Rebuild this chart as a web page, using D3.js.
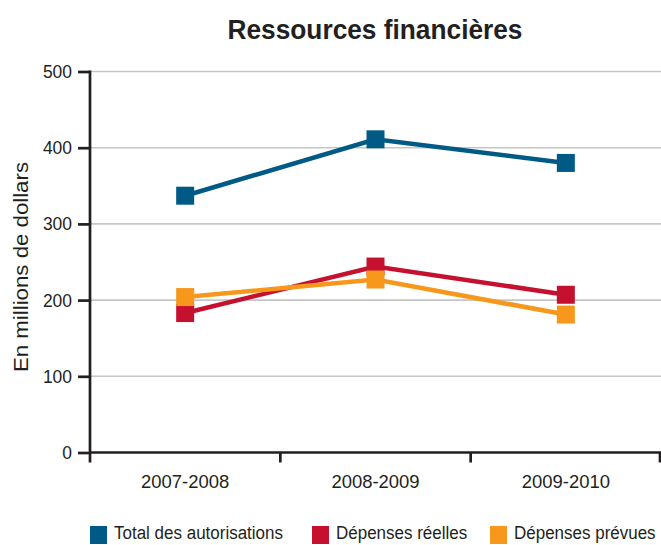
<!DOCTYPE html>
<html>
<head>
<meta charset="utf-8">
<script src="https://cdn.jsdelivr.net/npm/d3@7"></script>
<style>
  html, body { margin: 0; padding: 0; background: #fff; }
  svg { display: block; }
  text { font-family: "Liberation Sans", Arial, sans-serif; fill: #231f20; }
</style>
</head>
<body>
<svg id="chart" width="661" height="545"></svg>
<script>
// Fiscal years shown on the x axis
const years = ["2007-2008", "2008-2009", "2009-2010"];
// Values in millions of dollars
const totalAutorisations = [337, 411, 380];
const depensesReelles = [183, 244, 207];
const depensesPrevues = [204, 227, 181];
// Y axis ticks
const yTicks = [0, 100, 200, 300, 400, 500];

const seriesNames = ["Total des autorisations", "Dépenses réelles", "Dépenses prévues"];
const seriesColors = ["#005a86", "#c5112f", "#f7981d"];
const seriesValues = [totalAutorisations, depensesReelles, depensesPrevues];

const svg = d3.select("#chart");
const plotLeft = 90, plotRight = 661, plotTop = 71.5, plotBottom = 452.5;
const ink = "#231f20";

const x = d3.scaleBand().domain(years).range([plotLeft, plotRight]).paddingInner(0).paddingOuter(0);
const y = d3.scaleLinear().domain([0, 500]).range([plotBottom, plotTop]);

// Condensed look: squeeze glyphs to a target width
const condense = (sel, perChar) =>
  sel.attr("textLength", function () { return this.textContent.length * perChar; })
     .attr("lengthAdjust", "spacingAndGlyphs");

// Title
svg.append("text")
  .attr("x", 375).attr("y", 39)
  .attr("text-anchor", "middle")
  .attr("textLength", 295).attr("lengthAdjust", "spacingAndGlyphs")
  .style("font-size", "27px").style("font-weight", "bold")
  .text("Ressources financières");

// Horizontal gridlines
svg.append("g").selectAll("line")
  .data(yTicks.filter(d => d > 0))
  .join("line")
  .attr("x1", plotLeft).attr("x2", plotRight)
  .attr("y1", d => y(d)).attr("y2", d => y(d))
  .attr("stroke", "#c6c6c6").attr("stroke-width", 1.6);

// Y axis
const yAxis = svg.append("g")
  .attr("transform", `translate(${plotLeft},0)`)
  .call(d3.axisLeft(y).tickValues(yTicks).tickSize(12).tickPadding(6));
yAxis.select(".domain").remove();
yAxis.selectAll(".tick line").attr("stroke", ink).attr("stroke-width", 2.7);
yAxis.selectAll(".tick text")
  .attr("font-family", null).attr("font-size", null)
  .style("font-size", "19px").attr("fill", ink)
  .call(condense, 9.7);
svg.append("line")
  .attr("x1", plotLeft).attr("x2", plotLeft).attr("y1", plotTop - 1).attr("y2", plotBottom + 10)
  .attr("stroke", ink).attr("stroke-width", 2.7);

// X axis
const xAxis = svg.append("g")
  .attr("transform", `translate(0,${plotBottom})`)
  .call(d3.axisBottom(x).tickSize(0).tickPadding(22));
xAxis.select(".domain").remove();
xAxis.selectAll(".tick text")
  .attr("font-family", null).attr("font-size", null)
  .style("font-size", "19px").attr("fill", ink)
  .call(condense, 9.8);
svg.append("line")
  .attr("x1", plotLeft).attr("x2", plotRight).attr("y1", plotBottom).attr("y2", plotBottom)
  .attr("stroke", ink).attr("stroke-width", 2.7);
// Tick marks on the band boundaries
svg.append("g").selectAll("line")
  .data(years)
  .join("line")
  .attr("x1", d => Math.min(x(d) + x.bandwidth(), plotRight - 1))
  .attr("x2", d => Math.min(x(d) + x.bandwidth(), plotRight - 1))
  .attr("y1", plotBottom).attr("y2", plotBottom + 10)
  .attr("stroke", ink).attr("stroke-width", 2.7);

// Y axis title
svg.append("text")
  .attr("transform", `translate(28,267) rotate(-90)`)
  .attr("text-anchor", "middle")
  .attr("textLength", 210).attr("lengthAdjust", "spacingAndGlyphs")
  .style("font-size", "20px")
  .text("En millions de dollars");

// Lines and square markers
const line = d3.line().x((d, i) => x(years[i]) + x.bandwidth() / 2).y(d => y(d));
const msize = 18;
seriesValues.forEach((vals, s) => {
  const g = svg.append("g");
  g.append("path")
    .attr("d", line(vals))
    .attr("fill", "none")
    .attr("stroke", seriesColors[s])
    .attr("stroke-width", 4.6);
  g.selectAll("rect")
    .data(vals)
    .join("rect")
    .attr("x", (d, i) => x(years[i]) + x.bandwidth() / 2 - msize / 2)
    .attr("y", d => y(d) - msize / 2)
    .attr("width", msize).attr("height", msize)
    .attr("fill", seriesColors[s]);
});

// Legend: slightly tall, narrow lettering
const legendX = [90, 312, 490];
const legend = svg.append("g");
seriesNames.forEach((name, i) => {
  legend.append("rect")
    .attr("x", legendX[i]).attr("y", 526)
    .attr("width", 17).attr("height", 18)
    .attr("fill", seriesColors[i]);
  legend.append("text")
    .attr("transform", `translate(${legendX[i] + 24},539) scale(1,1.12)`)
    .style("font-size", "17px")
    .text(name);
});
</script>
</body>
</html>
